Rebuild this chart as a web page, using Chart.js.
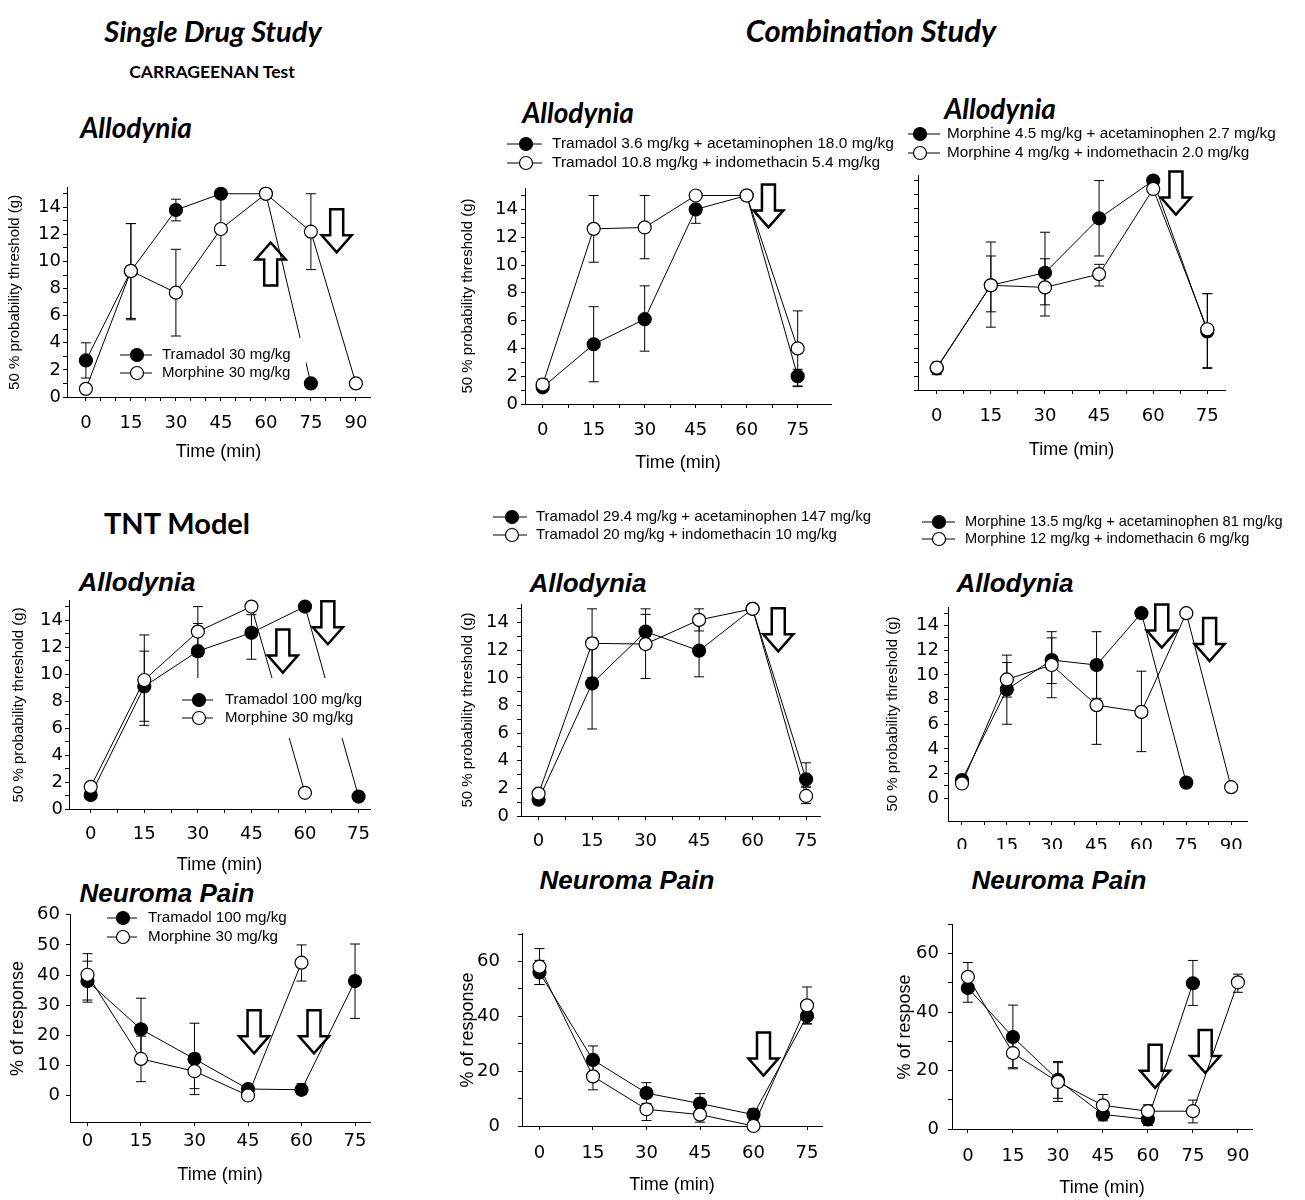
<!DOCTYPE html>
<html>
<head>
<meta charset="utf-8">
<script src="https://cdn.jsdelivr.net/npm/chart.js@4.4.0/dist/chart.umd.min.js"></script>
<style>
body{margin:0;background:#fff;width:1305px;height:1200px;position:relative;overflow:hidden;font-family:"Liberation Sans",Arial,sans-serif;color:#000}
.t{position:absolute;white-space:nowrap;line-height:1;transform:translate(-50%,-50%)}
.lato{font-family:Lato,"Liberation Sans",sans-serif;font-weight:bold}
.it{font-style:italic}
.pt{font-weight:bold;font-style:italic;font-size:26px}
canvas{position:absolute}
</style>
</head>
<body>
<div class="t lato it" style="left:213px;top:30px;font-size:29px">Single Drug Study</div>
<div class="t lato it" style="left:871px;top:30px;font-size:31px">Combination Study</div>
<div class="t lato" style="left:212px;top:72px;font-size:17.5px">CARRAGEENAN Test</div>
<div class="t lato" style="left:177px;top:522px;font-size:29px">TNT Model</div>
<div class="t lato it" style="left:136px;top:127px;font-size:28px">Allodynia</div>
<div class="t lato it" style="left:578px;top:112px;font-size:28px">Allodynia</div>
<div class="t lato it" style="left:1000px;top:108px;font-size:28px">Allodynia</div>
<div class="t pt" style="left:137px;top:582px">Allodynia</div>
<div class="t pt" style="left:588px;top:583px">Allodynia</div>
<div class="t pt" style="left:1015px;top:583px">Allodynia</div>
<div class="t pt" style="left:167px;top:893px">Neuroma Pain</div>
<div class="t pt" style="left:627px;top:880px">Neuroma Pain</div>
<div class="t pt" style="left:1059px;top:880px">Neuroma Pain</div>

<canvas id="c1"></canvas><canvas id="c2"></canvas><canvas id="c3"></canvas>
<canvas id="c4"></canvas><canvas id="c5"></canvas><canvas id="c6"></canvas>
<canvas id="c7"></canvas><canvas id="c8"></canvas><canvas id="c9"></canvas>

<script>
// tick labels
var time75 = [0, 15, 30, 45, 60, 75];
var time90 = [0, 15, 30, 45, 60, 75, 90];
var thrTicks = [0, 2, 4, 6, 8, 10, 12, 14];
var respTicks10 = [0, 10, 20, 30, 40, 50, 60];
var respTicks20 = [0, 20, 40, 60];

// --- Carrageenan, single drug
var p1TramTime = [0, 15, 30, 45, 60, 75];
var p1TramMean = [2.7, 9.3, 13.8, 15.0, 15.0, 1.0];
var p1TramErr = [[1.4, 4.0], [5.8, 12.8], [13.0, 14.6], null, null, null];
var p1MorTime = [0, 15, 30, 45, 60, 75, 90];
var p1MorMean = [0.6, 9.3, 7.7, 12.4, 15.0, 12.2, 1.0];
var p1MorErr = [null, [5.7, 12.8], [4.5, 10.9], [9.7, 15.0], null, [9.4, 15.0], null];
var p1Labels = ["Tramadol 30 mg/kg", "Morphine 30 mg/kg"];

// --- Carrageenan, tramadol combinations
var p2Time = [0, 15, 30, 45, 60, 75];
var p2AcetMean = [1.2, 4.3, 6.1, 14.0, 15.0, 2.0];
var p2AcetErr = [null, [1.6, 7.0], [3.8, 8.5], [13.0, 15.0], null, [1.25, 2.5]];
var p2IndoMean = [1.4, 12.6, 12.7, 15.0, 15.0, 4.0];
var p2IndoErr = [[1.0, 1.8], [10.2, 15.0], [10.45, 15.0], null, null, [1.3, 6.7]];
var p2Labels = ["Tramadol 3.6 mg/kg + acetaminophen 18.0 mg/kg", "Tramadol 10.8 mg/kg + indomethacin 5.4 mg/kg"];

// --- Carrageenan, morphine combinations
var p3Time = [0, 15, 30, 45, 60, 75];
var p3AcetMean = [1.55, 7.5, 8.4, 12.3, 15.0, 4.2];
var p3AcetErr = [[1.1, 2.0], [5.6, 9.6], [6.1, 11.3], [9.6, 15.0], null, [1.55, 6.9]];
var p3IndoMean = [1.6, 7.5, 7.35, 8.3, 14.4, 4.35];
var p3IndoErr = [null, [4.5, 10.6], [5.3, 9.4], [7.45, 9.0], null, [1.6, 6.9]];
var p3Labels = ["Morphine 4.5 mg/kg + acetaminophen 2.7 mg/kg", "Morphine 4 mg/kg + indomethacin 2.0 mg/kg"];

// --- TNT allodynia, single drug
var p4TramTime = [0, 15, 30, 45, 60, 75];
var p4TramMean = [1.04, 9.08, 11.7, 13.06, 15.0, 0.92];
var p4TramErr = [null, [6.2, 12.9], [9.65, 13.75], [11.1, 14.4], null, null];
var p4MorTime = [0, 15, 30, 45, 60];
var p4MorMean = [1.64, 9.56, 13.15, 15.0, 1.2];
var p4MorErr = [null, [6.5, 11.7], [11.3, 15.0], null, null];
var p4Labels = ["Tramadol 100 mg/kg", "Morphine 30 mg/kg"];

// --- TNT allodynia, tramadol combinations
var p5Time = [0, 15, 30, 45, 60, 75];
var p5AcetMean = [1.18, 9.6, 13.35, 11.97, 15.0, 2.66];
var p5AcetErr = [null, [6.3, 12.9], [12.1, 14.6], [10.08, 13.9], null, [2.1, 3.85]];
var p5IndoMean = [1.62, 12.5, 12.45, 14.2, 15.0, 1.45];
var p5IndoErr = [null, [10.0, 15.0], [9.96, 15.0], [13.4, 15.0], null, [0.9, 2.1]];
var p5Labels = ["Tramadol 29.4 mg/kg + acetaminophen 147 mg/kg", "Tramadol 20 mg/kg + indomethacin 10 mg/kg"];

// --- TNT allodynia, morphine combinations
var p6AcetTime = [0, 15, 30, 45, 60, 75];
var p6AcetMean = [1.48, 8.82, 11.2, 10.8, 15.0, 1.27];
var p6AcetErr = [null, [6.0, 11.0], [9.3, 13.5], [8.1, 13.5], null, null];
var p6IndoTime = [0, 15, 30, 45, 60, 75, 90];
var p6IndoMean = [1.2, 9.63, 10.8, 7.55, 7.0, 15.0, 0.9];
var p6IndoErr = [null, [8.2, 11.6], [8.15, 13.0], [4.37, 10.7], [3.78, 10.3], null, null];
var p6Labels = ["Morphine 13.5 mg/kg + acetaminophen 81 mg/kg", "Morphine 12 mg/kg + indomethacin 6 mg/kg"];

// --- Neuroma pain
var p7TramTime = [0, 15, 30, 45, 60, 75];
var p7TramMean = [38.0, 22.0, 12.15, 2.15, 1.9, 38.0];
var p7TramErr = [[31.0, 44.6], [11.7, 32.3], [0.3, 24.0], [1.2, 3.3], [0.3, 3.9], [25.6, 50.3]];
var p7MorTime = [0, 15, 30, 45, 60];
var p7MorMean = [40.1, 12.15, 8.06, 0, 44.1];
var p7MorErr = [[31.7, 47.1], [4.6, 19.7], [2.26, 13.9], null, [38.0, 50.0]];
var p7Labels = ["Tramadol 100 mg/kg", "Morphine 30 mg/kg"];

var p8Time = [0, 15, 30, 45, 60, 75];
var p8AcetMean = [56.0, 24.1, 12.0, 8.2, 4.15, 40.1];
var p8AcetErr = [[51.6, 60.4], [19.1, 29.2], [8.2, 15.8], [4.6, 11.8], [2.0, 6.3], [37.2, 43.0]];
var p8IndoMean = [58.1, 18.1, 6.1, 4.15, 0, 44.0];
var p8IndoErr = [[51.6, 64.7], [13.2, 23.0], [2.0, 10.2], [1.4, 6.9], null, [37.3, 50.7]];

var p9AcetTime = [0, 15, 30, 45, 60, 75];
var p9AcetMean = [48.3, 31.5, 16.8, 5.0, 3.3, 49.9];
var p9AcetErr = [[43.4, 53.2], [20.6, 42.4], [10.5, 23.1], [2.8, 7.2], [1.2, 5.4], [42.3, 57.7]];
var p9IndoTime = [0, 15, 30, 45, 60, 75, 90];
var p9IndoMean = [52.1, 26.0, 16.1, 8.1, 6.1, 6.1, 50.2];
var p9IndoErr = [[47.2, 57.0], [21.0, 31.0], [9.4, 22.7], [4.4, 11.8], [3.9, 8.3], [2.1, 9.9], [46.8, 53.0]];

var thrTitle = "50 % probability threshold (g)";
var FONT = '"Liberation Sans", Arial, sans-serif';
var TICKFONT = '"DejaVu Sans", "Liberation Sans", sans-serif';

// major ticks with n-1 minor ticks between each pair
function withMinor(major, n) {
	var out = [];
	for (var i = 0; i < major.length; i++) {
		out.push(major[i]);
		if (i < major.length - 1) {
			for (var k = 1; k < n; k++) out.push(major[i] + (major[i + 1] - major[i]) * k / n);
		}
	}
	return out;
}

function series(xs, ys, err, filled) {
	return {
		data: xs.map(function(t, i) { return {x: t, y: ys[i]}; }),
		err: err,
		borderColor: "#000",
		borderWidth: 1,
		pointRadius: 6.5,
		pointBorderWidth: 1.2,
		pointBorderColor: "#000",
		pointBackgroundColor: filled ? "#000" : "#fff",
		order: filled ? 1 : 0,
		tension: 0,
		clip: false
	};
}

function drawArrow(ctx, px, py, dir) {
	var s = dir == "up" ? -1 : 1;
	var y0 = dir == "up" ? py + 43 : py;  // shaft end away from the head
	ctx.beginPath();
	ctx.moveTo(px - 6.5, y0);
	ctx.lineTo(px + 6.5, y0);
	ctx.lineTo(px + 6.5, y0 + s * 26);
	ctx.lineTo(px + 15, y0 + s * 26);
	ctx.lineTo(px, y0 + s * 43);
	ctx.lineTo(px - 15, y0 + s * 26);
	ctx.lineTo(px - 6.5, y0 + s * 26);
	ctx.closePath();
	ctx.fillStyle = "#fff";
	ctx.fill();
	ctx.lineWidth = 2.5;
	ctx.strokeStyle = "#000";
	ctx.stroke();
}

function overlay(p) {
	return {
		id: "overlay",
		beforeDatasetsDraw: function(chart) {
			var ctx = chart.ctx, x = chart.scales.x, y = chart.scales.y;
			ctx.save();
			(p.arrows || []).forEach(function(a) {
				drawArrow(ctx, x.getPixelForValue(a[0]), y.getPixelForValue(a[1]), a[2]);
			});
			// error bars
			ctx.strokeStyle = "#000";
			ctx.lineWidth = 1;
			chart.data.datasets.forEach(function(ds) {
				ds.err.forEach(function(e, i) {
					if (!e) return;
					var px = x.getPixelForValue(ds.data[i].x);
					var lo = y.getPixelForValue(e[0]), hi = y.getPixelForValue(e[1]);
					ctx.beginPath();
					ctx.moveTo(px, lo); ctx.lineTo(px, hi);
					ctx.moveTo(px - 5, lo); ctx.lineTo(px + 5, lo);
					ctx.moveTo(px - 5, hi); ctx.lineTo(px + 5, hi);
					ctx.stroke();
				});
			});
			ctx.restore();
		},
		afterDatasetsDraw: function(chart) {
			var lg = p.legend;
			if (!lg) return;
			var ctx = chart.ctx, L = p.box[0], T = p.box[1];
			ctx.save();
			if (lg.blank) {
				ctx.fillStyle = "#fff";
				ctx.fillRect(lg.blank[0] - L, lg.blank[1] - T, lg.blank[2] - lg.blank[0], lg.blank[3] - lg.blank[1]);
			}
			ctx.font = (lg.size || 15) + "px " + FONT;
			ctx.textBaseline = "middle";
			ctx.textAlign = "left";
			lg.labels.forEach(function(txt, i) {
				var ry = lg.rows[i] - T;
				ctx.strokeStyle = "#000";
				ctx.lineWidth = 1;
				ctx.beginPath();
				ctx.moveTo(lg.x1 - L, ry); ctx.lineTo(lg.x2 - L, ry);
				ctx.stroke();
				ctx.beginPath();
				ctx.arc(lg.cx - L, ry, 6.5, 0, Math.PI * 2);
				ctx.fillStyle = i == 0 ? "#000" : "#fff";
				ctx.fill();
				ctx.lineWidth = 1.2;
				ctx.stroke();
				ctx.fillStyle = "#000";
				ctx.fillText(txt, lg.tx - L, ry);
			});
			ctx.restore();
		}
	};
}

function makePanel(p) {
	var cv = document.getElementById(p.id);
	cv.width = p.box[2];
	cv.height = p.box[3];
	cv.style.left = p.box[0] + "px";
	cv.style.top = p.box[1] + "px";
	var xAll = withMinor(p.x.major, p.x.minor), yAll = p.y.all;
	var yW = p.area[0] - p.box[0];
	var xH = p.box[1] + p.box[3] - p.area[3];

	new Chart(cv, {
		type: "line",
		data: {datasets: p.series.map(function(s) { return series(s[0], s[1], s[2], s[3]); })},
		options: {
			responsive: false,
			animation: false,
			events: [],
			layout: {padding: {left: 0, bottom: 0, top: p.area[1] - p.box[1], right: p.box[0] + p.box[2] - p.area[2]}},
			plugins: {legend: {display: false}, tooltip: {enabled: false}},
			scales: {
				x: {
					type: "linear",
					min: p.x.min, max: p.x.max, bounds: "data",
					afterBuildTicks: function(s) { s.ticks = xAll.map(function(v) { return {value: v}; }); },
					afterFit: function(s) { s.height = xH; },
					grid: {drawOnChartArea: false, tickLength: 4, color: "#000", tickColor: "#000"},
					border: {color: "#000", width: 1},
					ticks: {
						autoSkip: false, maxRotation: 0, color: "#000", padding: p.x.pad,
						font: {family: TICKFONT, size: 18},
						callback: function(v) { return p.x.major.indexOf(v) >= 0 ? String(v) : ""; }
					},
					title: {display: !!p.xTitle, text: p.xTitle, color: "#000", padding: 0, font: {family: FONT, size: 18}}
				},
				y: {
					type: "linear",
					min: p.y.min, max: p.y.max, bounds: "data",
					afterBuildTicks: function(s) { s.ticks = yAll.map(function(v) { return {value: v}; }); },
					afterFit: function(s) { s.width = yW; },
					grid: {drawOnChartArea: false, tickLength: 4, color: "#000", tickColor: "#000"},
					border: {color: "#000", width: 1},
					ticks: {
						autoSkip: false, color: "#000", padding: p.y.pad,
						font: {family: TICKFONT, size: 18},
						callback: function(v) { return p.y.major.indexOf(v) >= 0 ? String(v) : ""; }
					},
					title: {display: !!p.yTitle, text: p.yTitle, color: "#000", padding: 0, font: {family: FONT, size: p.yTitleSize || 15}}
				}
			}
		},
		plugins: [overlay(p)]
	});
}

var thrAll = [];
for (var v = 0; v <= 15; v++) thrAll.push(v);
var respAll10 = respTicks10.slice();
var respAll20 = withMinor(respTicks20, 2).concat([70]);

var panels = [
	{id: "c1", box: [6, 175, 374, 288], area: [67, 183, 370, 397],
		x: {min: -6.3, max: 94.7, major: time90, minor: 3, pad: 12},
		y: {min: 0, max: 15.44, major: thrTicks, all: thrAll, pad: 2},
		yTitle: thrTitle, xTitle: "Time (min)",
		series: [[p1TramTime, p1TramMean, p1TramErr, true], [p1MorTime, p1MorMean, p1MorErr, false]],
		legend: {labels: p1Labels, size: 15, x1: 120, x2: 152, cx: 137, tx: 162, rows: [355, 373], blank: [118, 338, 306, 372]},
		arrows: [[61.6, 11.4, "up"], [83.6, 13.85, "down"]]},
	{id: "c2", box: [459, 128, 441, 346], area: [525, 188, 831, 404],
		x: {min: -5.2, max: 84.8, major: time75, minor: 2, pad: 12},
		y: {min: 0, max: 15.54, major: thrTicks, all: thrAll, pad: 3},
		yTitle: thrTitle, xTitle: "Time (min)",
		series: [[p2Time, p2AcetMean, p2AcetErr, true], [p2Time, p2IndoMean, p2IndoErr, false]],
		legend: {labels: p2Labels, size: 15.5, x1: 507, x2: 542, cx: 526, tx: 552, rows: [144, 163]},
		arrows: [[66.4, 15.8, "down"]]},
	{id: "c3", box: [905, 122, 400, 339], area: [918, 175, 1225, 390],
		x: {min: -5.2, max: 79.9, major: time75, minor: 2, pad: 12},
		y: {min: 0, max: 15.4, major: [], all: thrAll, pad: 3},
		yTitle: "", xTitle: "Time (min)",
		series: [[p3Time, p3AcetMean, p3AcetErr, true], [p3Time, p3IndoMean, p3IndoErr, false]],
		legend: {labels: p3Labels, size: 15.3, x1: 908, x2: 940, cx: 920, tx: 947, rows: [134, 153]},
		arrows: [[66.3, 15.65, "down"]]},
	{id: "c4", box: [10, 588, 372, 288], area: [69, 596, 370, 809],
		x: {min: -6.08, max: 78.2, major: time75, minor: 2, pad: 11},
		y: {min: 0, max: 15.43, major: thrTicks, all: thrAll, pad: 2},
		yTitle: thrTitle, xTitle: "Time (min)",
		series: [[p4TramTime, p4TramMean, p4TramErr, true], [p4MorTime, p4MorMean, p4MorErr, false]],
		legend: {labels: p4Labels, size: 15, x1: 182, x2: 213, cx: 199, tx: 225, rows: [700, 718], blank: [178, 678, 365, 738]},
		arrows: [[53.8, 13.3, "down"], [66.4, 15.4, "down"]]},
	{id: "c5", box: [459, 505, 446, 355], area: [521, 604, 820, 816],
		x: {min: -4.93, max: 78.9, major: time75, minor: 2, pad: 11},
		y: {min: 0, max: 15.35, major: thrTicks, all: thrAll, pad: 8},
		yTitle: thrTitle, xTitle: "",
		series: [[p5Time, p5AcetMean, p5AcetErr, true], [p5Time, p5IndoMean, p5IndoErr, false]],
		legend: {labels: p5Labels, size: 15, x1: 493, x2: 527, cx: 512, tx: 536, rows: [517, 535]},
		arrows: [[67.2, 15.04, "down"]]},
	{id: "c6", box: [884, 510, 421, 339], area: [948, 607, 1247, 821],
		x: {min: -4.68, max: 95.3, major: time90, minor: 2, pad: 11},
		y: {min: -1.84, max: 15.5, major: thrTicks, all: thrAll, pad: 5},
		yTitle: thrTitle, xTitle: "",
		series: [[p6AcetTime, p6AcetMean, p6AcetErr, true], [p6IndoTime, p6IndoMean, p6IndoErr, false]],
		legend: {labels: p6Labels, size: 14.6, x1: 922, x2: 955, cx: 939, tx: 965, rows: [522, 539]},
		arrows: [[66.8, 15.7, "down"], [82.8, 14.6, "down"]]},
	{id: "c7", box: [7, 898, 373, 288], area: [70, 908, 370, 1122],
		x: {min: -4.9, max: 79.2, major: time75, minor: 1, pad: 5},
		y: {min: -8.8, max: 60, major: respTicks10, all: respAll10, pad: 6},
		yTitle: "% of response", yTitleSize: 18, xTitle: "Time (min)",
		series: [[p7TramTime, p7TramMean, p7TramErr, true], [p7MorTime, p7MorMean, p7MorErr, false]],
		legend: {labels: p7Labels, size: 15.2, x1: 107, x2: 137, cx: 123, tx: 148, rows: [918, 937]},
		arrows: [[46.7, 28.3, "down"], [63.5, 28.3, "down"]]},
	{id: "c8", box: [457, 905, 403, 291], area: [522, 912, 822, 1126],
		x: {min: -4.9, max: 79.2, major: time75, minor: 1, pad: 13},
		y: {min: 0, max: 70.1, major: respTicks20, all: respAll20, pad: 18},
		yTitle: "% of response", yTitleSize: 18, xTitle: "Time (min)",
		series: [[p8Time, p8AcetMean, p8AcetErr, true], [p8Time, p8IndoMean, p8IndoErr, false]],
		arrows: [[62.8, 34.1, "down"]]},
	{id: "c9", box: [894, 905, 411, 294], area: [952, 915, 1252, 1129],
		x: {min: -5.3, max: 94.7, major: time90, minor: 1, pad: 13},
		y: {min: 0, max: 69.9, major: respTicks20, all: respAll20, pad: 9},
		yTitle: "% of respose", yTitleSize: 18, xTitle: "Time (min)",
		series: [[p9AcetTime, p9AcetMean, p9AcetErr, true], [p9IndoTime, p9IndoMean, p9IndoErr, false]],
		arrows: [[62.4, 28.8, "down"], [79.1, 33.9, "down"]]}
];

panels.forEach(makePanel);
</script>
</body>
</html>
